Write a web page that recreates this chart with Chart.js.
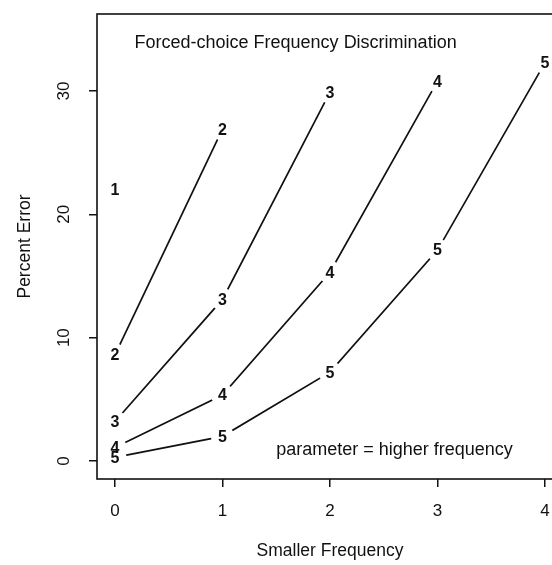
<!DOCTYPE html>
<html>
<head>
<meta charset="utf-8">
<script src="https://cdn.jsdelivr.net/npm/chart.js@4/dist/chart.umd.min.js"></script>
<style>
  html, body { margin: 0; padding: 0; background: #fff; overflow: hidden; }
  #wrap { width: 570px; height: 565px; }
</style>
</head>
<body>
<div id="wrap"><canvas id="myChart" width="570" height="565"></canvas></div>
<script>
// data
const smallerFreq = [0, 1, 2, 3, 4];
const seriesLabels = ['1', '2', '3', '4', '5'];
const err1 = [22];
const err2 = [8.6, 26.9];
const err3 = [3.2, 13.1, 29.9];
const err4 = [1.1, 5.35, 15.3, 30.8];
const err5 = [0.3, 2.0, 7.2, 17.1, 32.3];
const xTicks = [0, 1, 2, 3, 4];
const yTicks = [0, 10, 20, 30];

const allSeries = [err1, err2, err3, err4, err5];
const ink = '#111';
const fontFam = '"Liberation Sans", Arial, Helvetica, sans-serif';
const gap = 11.5;

// line with gaps around the plotting characters (like R type="b")
const gapPlugin = {
    id: 'gapPlugin',
    beforeDatasetDraw(chart, args) {
        const ctx = chart.ctx;
        ctx.save();
        ctx.beginPath();
        ctx.rect(0, 0, chart.width, chart.height);
        args.meta.data.forEach(function(p) {
            ctx.moveTo(p.x + gap, p.y);
            ctx.arc(p.x, p.y, gap, 0, Math.PI * 2);
        });
        ctx.clip('evenodd');
    },
    afterDatasetDraw(chart) {
        chart.ctx.restore();
    },
    afterDatasetsDraw(chart) {
        const ctx = chart.ctx;
        const xs = chart.scales.x, ys = chart.scales.y;
        const a = chart.chartArea;
        ctx.save();
        // point characters
        ctx.fillStyle = ink;
        ctx.font = 'bold 16px ' + fontFam;
        ctx.textAlign = 'center';
        ctx.textBaseline = 'middle';
        chart.data.datasets.forEach(function(ds, i) {
            chart.getDatasetMeta(i).data.forEach(function(p) {
                ctx.fillText(seriesLabels[i], p.x, p.y + 1);
            });
        });
        // box
        ctx.strokeStyle = ink;
        ctx.lineWidth = 1.6;
        ctx.strokeRect(a.left, a.top, a.right - a.left, a.bottom - a.top);
        // texts inside the plot
        ctx.font = '18px ' + fontFam;
        ctx.fillText('Forced-choice Frequency Discrimination', xs.getPixelForValue(1.68), ys.getPixelForValue(33.9));
        ctx.fillText('parameter = higher frequency', xs.getPixelForValue(2.6), ys.getPixelForValue(0.9));
        ctx.restore();
    }
};

const datasets = allSeries.map(function(vals, i) {
    return {
        label: seriesLabels[i],
        data: vals.map(function(v, j) { return {x: smallerFreq[j], y: v}; }),
        borderColor: ink,
        borderWidth: 1.7,
        pointRadius: 0,
        tension: 0,
        fill: false
    };
});

const ctx = document.getElementById('myChart').getContext('2d');
const myChart = new Chart(ctx, {
    type: 'line',
    data: { datasets: datasets },
    plugins: [gapPlugin],
    options: {
        responsive: false,
        animation: false,
        layout: { padding: { top: 14, right: 7, left: 0, bottom: 0 } },
        plugins: {
            legend: { display: false },
            tooltip: { enabled: false }
        },
        scales: {
            x: {
                type: 'linear',
                min: -0.167,
                max: 4.167,
                afterFit: function(s) { s.height = 86; s.paddingLeft = 0; s.paddingRight = 0; },
                afterBuildTicks: function(s) { s.ticks = xTicks.map(function(v) { return {value: v}; }); },
                grid: { drawOnChartArea: false, drawTicks: true, tickLength: 8, color: ink, lineWidth: 1.5 },
                border: { display: false },
                ticks: { color: ink, font: { family: fontFam, size: 17 }, padding: 14, maxRotation: 0 },
                title: { display: true, text: 'Smaller Frequency', color: ink,
                         font: { family: fontFam, size: 17.5 }, padding: { top: 0, bottom: 3 } }
            },
            y: {
                type: 'linear',
                min: -1.46,
                max: 36.24,
                afterFit: function(s) { s.width = 97; s.paddingTop = 0; s.paddingBottom = 0; },
                afterBuildTicks: function(s) { s.ticks = yTicks.map(function(v) { return {value: v}; }); },
                grid: { drawOnChartArea: false, drawTicks: true, tickLength: 8, color: ink, lineWidth: 1.5 },
                border: { display: false },
                ticks: { color: ink, font: { family: fontFam, size: 17 }, padding: 15, minRotation: 90, maxRotation: 90, crossAlign: 'center' },
                title: { display: true, text: 'Percent Error', color: ink,
                         font: { family: fontFam, size: 17.5 }, padding: { top: 15, bottom: 0 } }
            }
        }
    }
});
</script>
</body>
</html>
